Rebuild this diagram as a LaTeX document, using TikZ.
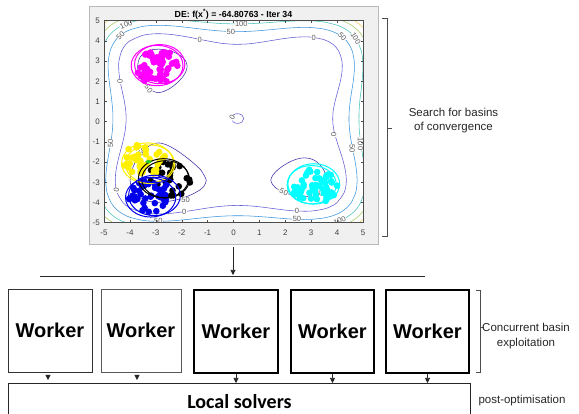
\documentclass[tikz,border=0pt]{standalone}
\usepackage{fontspec}
\setmainfont{Liberation Sans}
\newfontfamily\carlito{Carlito}
\usetikzlibrary{arrows.meta}

\definecolor{panelgray}{RGB}{240,240,240}
\definecolor{lvneg}{RGB}{62,48,168}
\definecolor{lvzero}{RGB}{98,92,214}
\definecolor{lvfifty}{RGB}{58,148,222}
\definecolor{lvhundred}{RGB}{72,196,186}
\definecolor{lvonefifty}{RGB}{165,200,95}
\definecolor{lvtwohundred}{RGB}{245,200,95}
\definecolor{ptyellow}{RGB}{255,240,0}
\definecolor{ptblue}{RGB}{0,0,235}
\definecolor{ptmagenta}{RGB}{255,0,255}
\definecolor{ptcyan}{RGB}{0,255,255}
\definecolor{ptgreen}{RGB}{40,200,40}

\tikzset{
  worker/.style={draw, minimum width=84pt, minimum height=83pt, inner sep=0pt,
    font=\fontsize{20}{24}\selectfont\bfseries},
  arr/.style={line width=0.6pt, black!85, -{Triangle[width=5pt,length=5pt]}},
  sidetext/.style={font=\fontsize{11.5}{14.4}\selectfont, text=black!85, align=center},
  clab/.style={fill=white, inner sep=0.3pt, font=\fontsize{7.5}{8}\selectfont, text=black!65},
  ticklab/.style={font=\fontsize{8}{9}\selectfont, text=black!75, inner sep=0pt},
  cont/.style={line width=0.55pt}
}

\begin{document}
\begin{tikzpicture}[x=1pt,y=-1pt]
\useasboundingbox (0,0) rectangle (579,414);
\fill[panelgray] (89,6) rectangle (378,244);
\draw[gray!55] (89,6) rectangle (378,244);
\fill[white] (104,20.7) rectangle (363,222.7);
\node[font=\fontsize{8.8}{10}\selectfont\bfseries] (title) at (233.5,14) {DE: f(x\textsuperscript{*}) = -64.80763 - Iter 34};
\begin{scope}[shift={(233.5,121.7)}, x=25.9pt, y=20.2pt]
\begin{scope}
\clip (-5,-5) rectangle (5,5);
\draw[cont,lvtwohundred] plot[smooth] coordinates {(-5.05,4.8) (-5,4.845) (-4.9,4.946) (-4.84,5) (-4.8,5.05)};
\draw[cont,lvtwohundred] plot[smooth] coordinates {(5.05,4.6) (5,4.669) (4.9,4.79) (4.845,4.845) (4.79,4.9) (4.669,5) (4.6,5.05)};
\draw[cont,lvtwohundred] plot[smooth] coordinates {(5.05,-4.8) (5,-4.84) (4.9,-4.948) (4.845,-5) (4.8,-5.05)};
\draw[cont,lvonefifty] plot[smooth] coordinates {(-5.05,4.38) (-5,4.46) (-4.8,4.713) (-4.6,4.891) (-4.5,4.96) (-4.434,5) (-4.38,5.05)};
\draw[cont,lvonefifty] plot[smooth] coordinates {(5.05,4.1) (5,4.2) (4.9,4.38) (4.8,4.522) (4.669,4.669) (4.522,4.8) (4.38,4.9) (4.2,5) (4.1,5.05)};
\draw[cont,lvonefifty] plot[smooth] coordinates {(5.05,-4.35) (5,-4.434) (4.9,-4.587) (4.8,-4.711) (4.7,-4.813) (4.6,-4.9) (4.46,-5) (4.4,-5.05)};
\draw[cont,lvonefifty] plot[smooth] coordinates {(-5.05,-4.6) (-5,-4.656) (-4.9,-4.778) (-4.84,-4.84) (-4.778,-4.9) (-4.656,-5) (-4.6,-5.05)};
\draw[cont,lvhundred] plot[smooth] coordinates {(-5.05,3.7) (-5,3.834) (-4.9,4.086) (-4.8,4.267) (-4.7,4.409) (-4.6,4.522) (-4.5,4.616) (-4.4,4.696) (-4.3,4.763) (-4.2,4.819) (-4,4.91) (-3.85,4.965) (-3.69,5) (-3.6,5.04)};
\draw[cont,lvhundred] plot[smooth] coordinates {(-1.95,5.05) (-1.79,5) (-1.5,4.965) (-1,4.91) (-0.5,4.861) (0,4.845) (0.5,4.849) (1,4.875) (1.5,4.92) (2,4.964) (2.5,4.993) (2.75,4.997) (3,4.992) (3.5,4.935) (4,4.778) (4.2,4.669) (4.4,4.519) (4.46,4.46) (4.519,4.4) (4.669,4.2) (4.778,4) (4.935,3.5) (4.992,3) (4.997,2.75) (4.993,2.5) (4.964,2) (4.92,1.5) (4.875,1) (4.849,0.5) (4.845,0) (4.861,-0.5) (4.91,-1) (4.965,-1.5) (5,-1.79) (5.05,-1.95)};
\draw[cont,lvhundred] plot[smooth] coordinates {(5.05,-3.55) (5,-3.69) (4.9,-4.024) (4.8,-4.235) (4.7,-4.395) (4.6,-4.519) (4.5,-4.618) (4.4,-4.707) (4.3,-4.78) (4.2,-4.84) (4.1,-4.893) (4,-4.938) (3.834,-5) (3.7,-5.05)};
\draw[cont,lvhundred] plot[smooth] coordinates {(-5.05,-4.05) (-5,-4.148) (-4.9,-4.341) (-4.8,-4.492) (-4.7,-4.611) (-4.656,-4.656) (-4.611,-4.7) (-4.492,-4.8) (-4.341,-4.9) (-4.148,-5) (-4.05,-5.05)};
\draw[cont,lvfifty] plot[smooth cycle] coordinates {(-4.087,4.5) (-4,4.548) (-3.5,4.719) (-3,4.771) (-2.5,4.755) (-2,4.7) (-1.5,4.624) (-1,4.548) (-0.5,4.49) (0,4.46) (0.5,4.467) (1,4.506) (1.5,4.563) (2,4.623) (2.5,4.663) (3,4.661) (3.5,4.584) (3.834,4.46) (4,4.364) (4.2,4.2) (4.364,4) (4.46,3.834) (4.584,3.5) (4.661,3) (4.663,2.5) (4.623,2) (4.563,1.5) (4.506,1) (4.467,0.5) (4.46,0) (4.49,-0.5) (4.548,-1) (4.624,-1.5) (4.7,-2) (4.755,-2.5) (4.771,-3) (4.719,-3.5) (4.548,-4) (4.4,-4.23) (4.2,-4.434) (4,-4.572) (3.834,-4.656) (3.5,-4.764) (3,-4.834) (2.5,-4.835) (2,-4.799) (1.5,-4.745) (1,-4.696) (0.5,-4.661) (0,-4.656) (-0.5,-4.682) (-1,-4.733) (-1.5,-4.801) (-2,-4.867) (-2.5,-4.917) (-3,-4.932) (-3.5,-4.885) (-4,-4.733) (-4.148,-4.656) (-4.434,-4.434) (-4.656,-4.148) (-4.733,-4) (-4.885,-3.5) (-4.932,-3) (-4.917,-2.5) (-4.867,-2) (-4.801,-1.5) (-4.733,-1) (-4.682,-0.5) (-4.656,0) (-4.661,0.5) (-4.696,1) (-4.745,1.5) (-4.799,2) (-4.835,2.5) (-4.834,3) (-4.764,3.5) (-4.656,3.834) (-4.572,4) (-4.434,4.2) (-4.23,4.4)};
\draw[cont,lvzero] plot[smooth cycle] coordinates {(-4.148,3.834) (-4,4) (-3.5,4.277) (-3,4.354) (-2.5,4.33) (-2,4.246) (-1.5,4.127) (-1,4) (-0.5,3.887) (0,3.834) (0.5,3.846) (1,3.921) (1.5,4.024) (2,4.125) (2.5,4.19) (3,4.188) (3.5,4.06) (3.75,3.908) (3.834,3.834) (3.908,3.75) (4.06,3.5) (4.188,3) (4.19,2.5) (4.125,2) (4.024,1.5) (3.921,1) (3.846,0.5) (3.834,0) (3.887,-0.5) (4,-1) (4.127,-1.5) (4.246,-2) (4.33,-2.5) (4.354,-3) (4.277,-3.5) (4,-4) (3.834,-4.148) (3.75,-4.203) (3.5,-4.321) (3,-4.424) (2.5,-4.426) (2,-4.376) (1.5,-4.294) (1,-4.212) (0.5,-4.157) (0,-4.148) (-0.5,-4.19) (-1,-4.273) (-1.5,-4.375) (-2,-4.473) (-2.5,-4.544) (-3,-4.564) (-3.5,-4.5) (-4,-4.273) (-4.148,-4.148) (-4.273,-4) (-4.5,-3.5) (-4.564,-3) (-4.544,-2.5) (-4.473,-2) (-4.375,-1.5) (-4.273,-1) (-4.19,-0.5) (-4.148,0) (-4.157,0.5) (-4.212,1) (-4.294,1.5) (-4.376,2) (-4.426,2.5) (-4.424,3) (-4.321,3.5) (-4.203,3.75)};
\draw[cont,lvzero] (0.157,0.157) circle [radius=0.24];
\draw[cont,lvneg] plot[smooth cycle] coordinates {(-2.9,-1.05) (-2.69,-1.1) (-2.492,-1.2) (-2.216,-1.4) (-1.99,-1.6) (-1.783,-1.8) (-1.59,-2) (-1.412,-2.2) (-1.254,-2.4) (-1.16,-2.6) (-1.05,-2.9) (-1.146,-3.2) (-1.324,-3.4) (-1.605,-3.6) (-2.013,-3.8) (-2.316,-3.9) (-2.537,-3.95) (-2.9,-3.99) (-3.228,-3.95) (-3.404,-3.9) (-3.581,-3.8) (-3.788,-3.6) (-3.899,-3.4) (-3.958,-3.2) (-3.99,-2.9) (-3.962,-2.6) (-3.922,-2.4) (-3.865,-2.2) (-3.795,-2) (-3.705,-1.8) (-3.596,-1.6) (-3.452,-1.4) (-3.258,-1.2) (-3.093,-1.1)};
\draw[cont,lvneg] plot[smooth cycle] coordinates {(-2.9,1.44) (-2.687,1.5) (-2.517,1.6) (-2.289,1.8) (-2.114,2) (-1.974,2.2) (-1.87,2.4) (-1.805,2.6) (-1.79,2.75) (-1.843,3) (-1.974,3.2) (-2.222,3.4) (-2.426,3.5) (-2.576,3.55) (-2.9,3.59) (-3.198,3.55) (-3.303,3.5) (-3.449,3.4) (-3.605,3.2) (-3.67,3) (-3.702,2.75) (-3.695,2.6) (-3.66,2.4) (-3.605,2.2) (-3.516,2) (-3.412,1.8) (-3.242,1.6) (-3.095,1.5)};
\draw[cont,lvneg] plot[smooth cycle] coordinates {(1.44,-2.9) (1.5,-2.687) (1.6,-2.517) (1.8,-2.289) (2,-2.114) (2.2,-1.974) (2.4,-1.87) (2.6,-1.805) (2.75,-1.79) (3,-1.843) (3.2,-1.974) (3.4,-2.222) (3.5,-2.426) (3.55,-2.576) (3.59,-2.9) (3.55,-3.198) (3.5,-3.303) (3.4,-3.449) (3.2,-3.605) (3,-3.67) (2.75,-3.702) (2.6,-3.695) (2.4,-3.66) (2.2,-3.605) (2,-3.516) (1.8,-3.412) (1.6,-3.242) (1.5,-3.095)};
\node[clab,rotate=22] at (-4.15,4.8) {100};
\node[clab,rotate=45] at (-4.36,4.28) {50};
\node[clab] at (0.3,4.85) {100};
\node[clab] at (-0.1,4.46) {50};
\node[clab] at (-1.3,4.07) {0};
\node[clab] at (3.1,4.17) {0};
\node[clab,rotate=-45] at (4.2,4.2) {50};
\node[clab,rotate=-60] at (4.72,4.12) {100};
\node[clab,rotate=90] at (-4.38,2.0) {0};
\node[clab,rotate=-55] at (-3.3,1.68) {-50};
\node[clab,rotate=60] at (-0.05,0.2) {0};
\node[clab,rotate=-90] at (3.87,-0.66) {0};
\node[clab,rotate=-90] at (4.9,-1.1) {100};
\node[clab,rotate=-90] at (4.58,-1.35) {50};
\node[clab,rotate=90] at (-4.75,-1.07) {50};
\node[clab,rotate=50] at (-3.55,-1.55) {-50};
\node[clab,rotate=80] at (-4.52,-3.4) {0};
\node[clab] at (-1.9,-3.86) {-50};
\node[clab] at (-1.9,-4.46) {0};
\node[clab] at (-2.9,-4.93) {50};
\node[clab,rotate=-25] at (1.9,-3.47) {-50};
\node[clab,rotate=20] at (3.25,-3.6) {-50};
\node[clab] at (2.45,-4.43) {0};
\node[clab] at (2.45,-4.83) {50};
\node[clab,rotate=22] at (4.1,-4.89) {100};
\pgfmathsetseed{11}
\foreach \col/\cx/\cy/\rx/\ry/\n in {ptmagenta/-2.97/2.74/0.88/0.88/55, black/-2.55/-2.87/0.9/0.9/26, ptyellow/-3.43/-1.84/0.9/0.8/42, ptblue/-3.25/-3.67/0.9/0.88/40, ptcyan/3.1/-3.2/0.9/0.85/55}{
  \foreach \k in {1,...,\n}{
    \pgfmathsetmacro\ang{360*rnd}
    \pgfmathsetmacro\rad{sqrt(rnd)}
    \fill[\col] ({\cx+\rx*\rad*cos(\ang)},{\cy+\ry*\rad*sin(\ang)}) circle (3.3pt);
  }
}
\draw[ptmagenta,line width=1pt] (-2.95,2.78) circle [radius=1];
\draw[ptmagenta,line width=1pt] (-2.85,2.85) circle [radius=0.97];
\draw[ptyellow,line width=1pt] (-3.32,-2.05) circle [radius=1];
\draw[ptyellow,line width=1pt] (-3.22,-2.1) circle [radius=0.95];
\draw[black,line width=1pt] (-2.7,-2.8) circle [radius=0.97];
\draw[black,line width=1pt] (-2.62,-2.85) circle [radius=0.92];
\draw[ptblue,line width=1pt] (-3.2,-3.75) circle [radius=0.97];
\draw[ptblue,line width=1pt] (-3.05,-3.65) circle [radius=1];
\draw[ptblue,line width=1pt] (-3.1,-2.88) ellipse [x radius=0.55, y radius=0.13];
\draw[ptcyan,line width=1pt] (3.1,-3.08) circle [radius=1];
\draw[ptcyan,line width=1pt] (3.02,-3.12) circle [radius=0.95];
\fill[ptgreen] (-3.28,-1.98) ellipse [x radius=0.12, y radius=0.08];
\end{scope}
\draw[black!70,line width=0.4pt] (-5,-5) rectangle (5,5);
\foreach \i in {-5,...,5}{
  \draw[black!70,line width=0.4pt] (\i,-5) -- ++(0,2.5pt);
  \draw[black!70,line width=0.4pt] (\i,5) -- ++(0,-2.5pt);
  \draw[black!70,line width=0.4pt] (-5,\i) -- ++(2.5pt,0);
  \draw[black!70,line width=0.4pt] (5,\i) -- ++(-2.5pt,0);
  \node[ticklab,anchor=north] at ([yshift=-7pt]\i,-5) {\i};
  \node[ticklab,anchor=east] at ([xshift=-4pt]-5,\i) {\i};
}
\end{scope}
\draw[black!70,line width=0.5pt] (382,18) -- (387,18) -- (387,236) -- (382,236);
\draw[black!70,line width=0.5pt] (387,128) -- (392,128);
\node[sidetext] (search) at (453.5,120.5) {Search for basins\\of convergence};
\coordinate (panel-s) at (233,247);
\coordinate (fork) at (233,275);
\coordinate (fork-l) at (40,276.5);
\coordinate (fork-r) at (425,276.5);
\draw[arr] (panel-s) -- (fork);
\draw[black!85,line width=0.6pt] (fork-l) -- (fork-r);
\node[worker,line width=0.9pt,draw=black!80] (w1) at (50,330.5) {Worker};
\node[worker,line width=0.6pt,draw=black!65,minimum width=80pt] (w2) at (141,330.5) {Worker};
\node[worker,line width=1.1pt] (w3) at (236,331.5) {Worker};
\node[worker,line width=1.1pt,minimum width=83pt] (w4) at (332.5,331.5) {Worker};
\node[worker,line width=1.1pt,minimum width=83pt] (w5) at (427.5,331.5) {Worker};
\draw[black!70,line width=0.5pt] (476,290) -- (480,290) -- (480,372) -- (476,372);
\draw[black!70,line width=0.5pt] (480,327) -- (484,327);
\node[sidetext] (concur) at (526,336) {Concurrent basin\\exploitation};
\node[draw,line width=0.9pt,draw=black!85,minimum width=462pt,minimum height=36pt,anchor=north west,
  font=\carlito\fontsize{20}{24}\selectfont\bfseries] (local) at (8,383) {Local solvers};
\node[sidetext,anchor=west] (post) at (475,401) {post-optimisation};
\foreach \w in {w3,w4,w5}
  \draw[arr] (\w.south) -- (\w.south |- local.north);
\foreach \tx in {48,137}
  \fill[black!85] (\tx-2.6,375) -- (\tx+2.6,375) -- (\tx,380) -- cycle;
\end{tikzpicture}
\end{document}
